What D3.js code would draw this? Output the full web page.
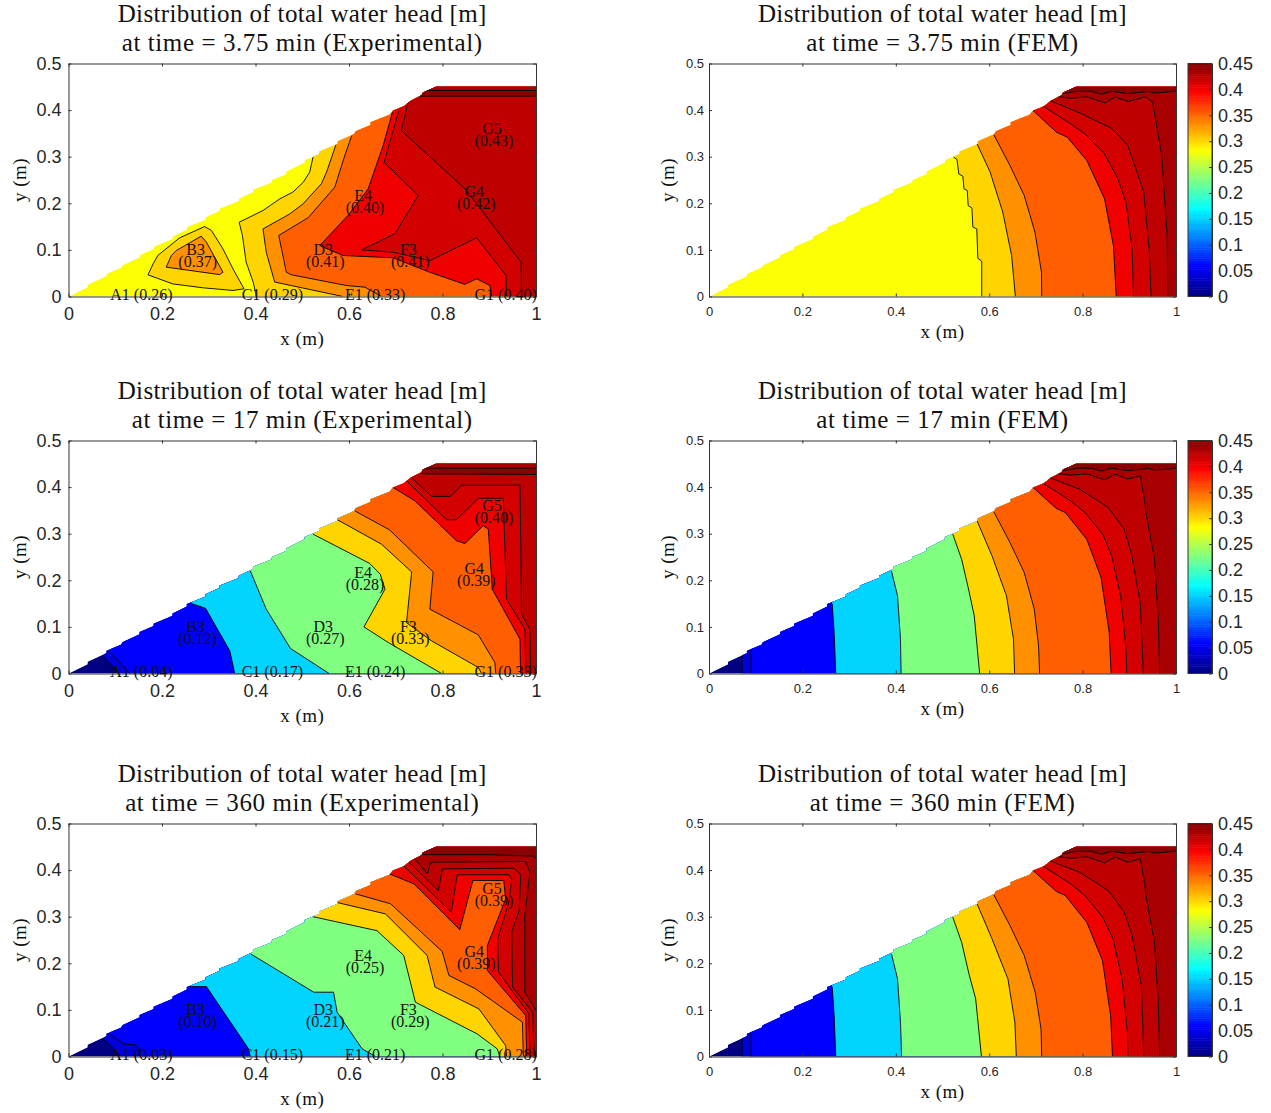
<!DOCTYPE html>
<html>
<head>
<meta charset="utf-8">
<script src="https://cdn.jsdelivr.net/npm/d3@7"></script>
<style>
  html, body { margin: 0; padding: 0; background: #fff; }
  svg { display: block; }
  .title, .axis-label, .probe { font-family: "Liberation Serif", serif; fill: #111; }
  .tick text { font-family: "Liberation Sans", Arial, sans-serif; fill: #262626; }
  .tick line, .domain { stroke: #333; }
</style>
</head>
<body>
<svg id="chart" width="1271" height="1113"></svg>
<script>
const xTicks = [0, 0.2, 0.4, 0.6, 0.8, 1];
const yTicks = [0, 0.1, 0.2, 0.3, 0.4, 0.5];
const barTicks = [0, 0.05, 0.1, 0.15, 0.2, 0.25, 0.3, 0.35, 0.4, 0.45];

// the sloped top of the dam, stepped like the mesh it came from
const damOutline = [[0,0],[.0405,.020],[.0405,.025],[.081,.044],[.081,.049],[.113,.062],[.115,.067],[.152,.0844],[.152,.089],
  [.182,.102],[.182,.107],[.2225,.124],[.2225,.129],[.253,.144],[.253,.149],[.293,.165],[.293,.170],[.323,.184],[.323,.189],
  [.364,.205],[.364,.210],[.3945,.224],[.3945,.229],[.435,.245],[.435,.250],[.4656,.263],[.4656,.268],[.505,.288],[.505,.293],
  [.536,.306],[.536,.311],[.5757,.328],[.5757,.333],[.61,.348],[.615,.355],[.646,.368],[.646,.374],[.6865,.390],[.694,.399],
  [.717,.408],[.732,.42],[.755,.432],[.758,.438],[.786,.45],[1,.45],[1,0]];

// each isoline: [head value of the band it opens, how the band closes, points in metres]
const exp375 = [
  [.30, 'loop', [[.170,.0465],[.181,.070],[.191,.088],[.238,.126],[.291,.150],[.3055,.142],[.3305,.102],[.352,.059],[.3755,.0165],[.352,.013],[.288,.0186],[.223,.027]]],
  [.33, 'loop', [[.209,.063],[.22,.088],[.2305,.0987],[.284,.1295],[.295,.1166],[.3305,.052],[.323,.047],[.259,.056]]],
  [.30, 'right', [[.523,.299],[.516,.267],[.502,.245],[.480,.224],[.452,.2096],[.416,.1845],[.380,.1667],[.365,.1595],[.372,.131],[.380,.0737],[.395,.031],[.402,0]]],
  [.33, 'right', [[.572,.3255],[.552,.267],[.541,.242],[.502,.199],[.473,.177],[.416,.145],[.423,.095],[.441,.031],[.587,0]]],
  [.352, 'right', [[.606,.3455],[.591,.3026],[.5696,.2346],[.5125,.169],[.4497,.131],[.466,.052],[.477,.0465],[.5946,.0236],[.634,.02],[.6695,0]]],
  [.40, 'right', [[.693,.3956],[.673,.324],[.641,.231],[.598,.174],[.5375,.1094],[.587,.088],[.6945,.083],[.773,.052],[.848,.026],[.873,.038],[.9015,.0236],[.905,0]]],
  [.413, 'right', [[.7066,.399],[.675,.288],[.748,.2167],[.698,.1345],[.6267,.100],[.6945,.095],[.773,.077],[.873,.126],[.936,.045],[.937,0]]],
  [.422, 'right', [[.7266,.417],[.712,.356],[.848,.231],[.873,.199],[.968,.0737],[.969,0]]],
  [.445, 'up', [[.75,.43],[1,.43]]],
  [.432, 'up', [[.76,.442],[1,.442]]]
];
const exp17 = [
  [.04, 'right', [[.075,.0365],[.108,0]]],
  [.056, 'right', [[.088,.047],[.131,0]]],
  [.15, 'right', [[.263,.150],[.293,.140],[.345,.0486],[.3555,0]]],
  [.225, 'right', [[.389,.220],[.423,.138],[.475,.0536],[.5575,0]]],
  [.30, 'right', [[.523,.299],[.6445,.236],[.667,.213],[.677,.181],[.632,.100],[.684,.0665],[.798,0]]],
  [.33, 'right', [[.575,.33],[.6695,.2775],[.734,.218],[.723,.109],[.7766,.070],[.8765,.013],[.8836,0]]],
  [.352, 'right', [[.6124,.349],[.687,.308],[.780,.218],[.773,.138],[.8765,.083],[.912,.0236],[.914,0]]],
  [.40, 'right', [[.6945,.399],[.741,.3705],[.830,.2847],[.848,.279],[.887,.317],[.898,.3097],[.9065,.181],[.9657,.0737],[.967,0]]],
  [.413, 'right', [[.7195,.417],[.8087,.33],[.830,.33],[.8765,.376],[.930,.376],[.937,.1595],[.9764,.095],[.9786,0]]],
  [.422, 'right', [[.734,.42],[.7766,.38],[.816,.38],[.841,.404],[.966,.404],[.969,.127],[.987,.095],[.9886,0]]],
  [.445, 'up', [[.755,.4285],[1,.427]]],
  [.432, 'up', [[.76,.4406],[1,.4406]]]
];
const exp360 = [
  [.04, 'right', [[.0765,.0365],[.1,.013],[.11,0]]],
  [.056, 'right', [[.089,.047],[.118,.027],[.143,.025],[.151,.0165],[.151,0]]],
  [.15, 'right', [[.26,.150],[.295,.15],[.385,.0165],[.389,0]]],
  [.225, 'right', [[.39,.22],[.5246,.138],[.567,.138],[.5746,.095],[.628,.0165],[.6567,0]]],
  [.30, 'right', [[.523,.30],[.66,.27],[.717,.217],[.742,.1166],[.874,.0486],[.917,.0165],[.923,0]]],
  [.33, 'right', [[.5766,.33],[.678,.306],[.767,.217],[.784,.149],[.878,.102],[.935,.0236],[.937,0]]],
  [.352, 'right', [[.614,.349],[.689,.3276],[.7994,.2253],[.8137,.174],[.871,.145],[.971,.0737],[.973,0]]],
  [.40, 'right', [[.686,.392],[.739,.3705],[.837,.272],[.865,.3777],[.931,.3777],[.935,.338],[.896,.238],[.896,.1845],[.978,.088],[.98,0]]],
  [.413, 'right', [[.716,.41],[.8187,.31],[.8315,.39],[.942,.39],[.948,.381],[.942,.331],[.918,.2525],[.92,.181],[.985,.0916],[.987,0]]],
  [.422, 'right', [[.728,.417],[.791,.356],[.80,.4027],[.953,.404],[.9675,.39],[.964,.313],[.948,.267],[.95,.149],[.993,.095],[.996,0]]],
  [.432, 'right', [[.739,.4256],[.768,.392],[.775,.417],[.978,.4185],[.987,.3956],[.976,.3026],[.976,.138],[1,.0987]]],
  [.445, 'up', [[.757,.433],[.9,.433],[.995,.43],[1,.425]]]
];

const femCrest = [[.7576,.435],[.79,.4406],[.82,.4406],[.8395,.434],[.8624,.4406],[.897,.435],[.939,.44],[.954,.4363],[1,.4406]];

const fem375 = [
  [.30, 'right', [[.5237,.299],[.531,.294],[.535,.263],[.5436,.258],[.546,.231],[.553,.2275],[.555,.195],[.563,.190],[.565,.149],[.5734,.145],[.5757,.082],[.584,.0758],[.584,0]]],
  [.33, 'right', [[.574,.3276],[.602,.267],[.629,.181],[.648,.088],[.656,0]]],
  [.352, 'right', [[.61,.347],[.6445,.281],[.675,.2167],[.698,.138],[.712,.052],[.7125,0]]],
  [.40, 'right', [[.694,.399],[.744,.3526],[.767,.342],[.809,.292],[.847,.2096],[.866,.109],[.872,0]]],
  [.413, 'right', [[.7156,.408],[.7745,.3705],[.805,.349],[.847,.306],[.874,.256],[.893,.2024],[.906,.102],[.909,0]]],
  [.422, 'right', [[.73,.4206],[.7554,.41],[.79,.3956],[.862,.361],[.897,.324],[.931,.224],[.943,.095],[.9465,0]]],
  [.432, 'right', [[.746,.429],[.7745,.4256],[.809,.4285],[.847,.4156],[.87,.4278],[.897,.4185],[.935,.4285],[.95,.417],[.9694,.3026],[.981,.131],[.9824,0]]],
  [.445, 'up', femCrest]
];
const fem17 = [
  [.04, 'right', [[.071,.04],[.071,0]]],
  [.056, 'right', [[.09,.05],[.09,0]]],
  [.15, 'right', [[.2638,.1495],[.268,.088],[.2714,0]]],
  [.225, 'right', [[.3907,.22],[.4037,.1667],[.41,.0737],[.4113,0]]],
  [.30, 'right', [[.522,.299],[.541,.245],[.5566,.1774],[.568,.1237],[.5795,0]]],
  [.33, 'right', [[.574,.3276],[.606,.2525],[.637,.1667],[.652,.0737],[.6544,0]]],
  [.352, 'right', [[.61,.347],[.6445,.281],[.675,.2167],[.6965,.138],[.7057,.0594],[.708,0]]],
  [.40, 'right', [[.694,.399],[.744,.354],[.763,.3455],[.809,.288],[.8395,.206],[.857,.088],[.861,0]]],
  [.413, 'right', [[.7156,.408],[.7745,.3705],[.805,.3455],[.843,.299],[.8624,.2525],[.8815,.1667],[.893,.052],[.8945,0]]],
  [.422, 'right', [[.73,.4206],[.7554,.41],[.7936,.3956],[.855,.356],[.889,.31],[.904,.26],[.9235,.152],[.93,0]]],
  [.432, 'right', [[.746,.429],[.7745,.4256],[.809,.4285],[.847,.4156],[.87,.4278],[.897,.417],[.9235,.424],[.933,.3705],[.935,.349],[.954,.245],[.962,.1166],[.965,0]]],
  [.445, 'up', femCrest]
];
const fem360 = [
  [.04, 'right', [[.071,.04],[.071,0]]],
  [.056, 'right', [[.09,.05],[.09,0]]],
  [.15, 'right', [[.2638,.1495],[.268,.088],[.2714,0]]],
  [.225, 'right', [[.3907,.22],[.4037,.1667],[.41,.0737],[.4125,0]]],
  [.30, 'right', [[.522,.299],[.541,.245],[.5566,.1774],[.571,.1237],[.5834,0]]],
  [.33, 'right', [[.574,.3276],[.606,.2525],[.64,.1667],[.655,.0737],[.658,0]]],
  [.352, 'right', [[.61,.347],[.6445,.281],[.675,.2167],[.6985,.138],[.711,.0594],[.7125,0]]],
  [.40, 'right', [[.694,.399],[.744,.354],[.763,.3455],[.809,.288],[.8425,.206],[.86,.088],[.864,0]]],
  [.413, 'right', [[.7156,.408],[.7745,.3705],[.805,.3455],[.843,.299],[.8654,.2525],[.8845,.1667],[.896,.052],[.897,0]]],
  [.422, 'right', [[.73,.4206],[.7554,.41],[.7936,.3956],[.855,.356],[.889,.31],[.906,.26],[.926,.152],[.931,0]]],
  [.432, 'right', [[.746,.429],[.7745,.4256],[.809,.4285],[.847,.4156],[.87,.4278],[.897,.417],[.9235,.424],[.933,.3705],[.935,.349],[.954,.245],[.962,.1166],[.965,0]]],
  [.445, 'up', femCrest]
];

// probe readings shown on the experimental panels
const probeNames = ['A1', 'C1', 'E1', 'G1', 'B3', 'D3', 'F3', 'E4', 'G4', 'G5'];
const probeX = [.156, .436, .656, .935, .272, .545, .727, .63, .868, .906];
const probeY = [0, 0, 0, 0, .1, .1, .1, .215, .225, .36];
const probes375 = ['0.26', '0.29', '0.33', '0.40', '0.37', '0.41', '0.41', '0.40', '0.42', '0.43'];
const probes17 = ['0.04', '0.17', '0.24', '0.33', '0.12', '0.27', '0.33', '0.28', '0.39', '0.40'];
const probes360 = ['0.03', '0.15', '0.21', '0.28', '0.10', '0.21', '0.29', '0.25', '0.39', '0.39'];

const svg = d3.select('#chart');
const maxHead = 0.45;

// MATLAB jet
function jet(v) {
    const t = v / maxHead;
    const c = a => Math.round(255 * Math.max(0, Math.min(1, 1.5 - Math.abs(4 * t - a))));
    return d3.rgb(c(3), c(2), c(1)).formatHex();
}

function drawPanel(opt) {
    const x = d3.scaleLinear().domain([0, 1]).range([opt.left, opt.left + opt.w]);
    const y = d3.scaleLinear().domain([0, 0.5]).range([opt.top + opt.h, opt.top]);
    const line = d3.line().x(d => x(d[0])).y(d => y(d[1]));
    const g = svg.append('g');

    g.append('clipPath').attr('id', opt.id)
        .append('path').attr('d', line(damOutline) + 'Z');

    const marks = g.append('g').attr('clip-path', `url(#${opt.id})`);
    marks.append('path').attr('d', line(damOutline) + 'Z').attr('fill', jet(opt.base));

    opt.lines.forEach(([level, kind, pts]) => {
        const first = pts[0];
        let ring = pts;
        if (kind === 'right') ring = pts.concat([[1, 0], [1, 0.5], [first[0], 0.5]]);
        if (kind === 'up') ring = pts.concat([[1, 0.5], [first[0], 0.5]]);
        marks.append('path').attr('d', line(ring) + 'Z').attr('fill', jet(level));
        marks.append('path')
            .attr('d', line(pts) + (kind === 'loop' ? 'Z' : ''))
            .attr('fill', 'none')
            .attr('stroke', '#000')
            .attr('stroke-width', 0.9);
    });

    const axes = g.append('g');
    const b = axes.append('g').attr('transform', `translate(0,${opt.top + opt.h})`)
        .call(d3.axisBottom(x).tickValues(xTicks).tickFormat(d => String(d)).tickSizeInner(-3).tickSizeOuter(0).tickPadding(opt.xPad));
    const l = axes.append('g').attr('transform', `translate(${opt.left},0)`)
        .call(d3.axisLeft(y).tickValues(yTicks).tickFormat(d => String(d)).tickSizeInner(-3).tickSizeOuter(0).tickPadding(opt.yPad));
    axes.append('g').attr('transform', `translate(0,${opt.top})`)
        .call(d3.axisTop(x).tickValues(xTicks).tickFormat('').tickSizeInner(-3).tickSizeOuter(0));
    axes.append('g').attr('transform', `translate(${opt.left + opt.w},0)`)
        .call(d3.axisRight(y).tickValues(yTicks).tickFormat('').tickSizeInner(-3).tickSizeOuter(0));
    b.selectAll('text').style('font-size', opt.tickFont + 'px');
    l.selectAll('text').style('font-size', opt.tickFont + 'px');

    const cx = opt.left + opt.w / 2;
    const title = g.append('text').attr('class', 'title')
        .attr('text-anchor', 'middle')
        .style('font-size', '25px')
        .style('letter-spacing', '0.36px');
    title.append('tspan').attr('x', cx).attr('y', opt.top - 42).text('Distribution of total water head [m]');
    title.append('tspan').attr('x', cx).attr('y', opt.top - 13).style('letter-spacing', '0.58px').text(opt.subtitle);

    g.append('text').attr('class', 'axis-label')
        .attr('text-anchor', 'middle')
        .attr('x', cx).attr('y', opt.top + opt.h + opt.xLabelGap)
        .style('font-size', '19px')
        .style('letter-spacing', '0.5px')
        .text('x (m)');
    g.append('text').attr('class', 'axis-label')
        .attr('text-anchor', 'middle')
        .attr('transform', `translate(${opt.left - opt.yLabelGap},${opt.top + opt.h / 2}) rotate(-90)`)
        .style('font-size', '19px')
        .style('letter-spacing', '0.5px')
        .text('y (m)');

    if (opt.readings) {
        probeNames.forEach((name, i) => {
            const px = x(probeX[i]);
            const py = y(probeY[i]);
            const t = g.append('text').attr('class', 'probe').style('font-size', '16px').attr('text-anchor', 'middle');
            if (probeY[i] === 0) {
                t.attr('x', px).attr('y', py + 3).text(`${name} (${opt.readings[i]})`);
            } else {
                t.append('tspan').attr('x', px).attr('y', py + 5).text(name);
                t.append('tspan').attr('x', px + 2).attr('y', py + 17).text(`(${opt.readings[i]})`);
            }
        });
    }
}

function drawColorbar(top, h) {
    const left = 1188, w = 24;
    const y = d3.scaleLinear().domain([0, maxHead]).range([top + h, top]);
    const g = svg.append('g');
    g.selectAll('rect').data(d3.range(0, maxHead, maxHead / 128)).enter().append('rect')
        .attr('x', left).attr('width', w)
        .attr('y', d => y(d + maxHead / 128))
        .attr('height', h / 128 + 0.5)
        .attr('fill', d => jet(d));
    const a = g.append('g').attr('transform', `translate(${left + w},0)`)
        .call(d3.axisRight(y).tickValues(barTicks).tickFormat(d => String(d)).tickSizeInner(-3).tickSizeOuter(0).tickPadding(6));
    a.selectAll('text').style('font-size', '18px');
    g.append('rect').attr('x', left).attr('y', top).attr('width', w).attr('height', h)
        .attr('fill', 'none').attr('stroke', '#333');
}

const tops = [63.5, 440.5, 823.5];
const times = ['3.75', '17', '360'];
const expSets = [exp375, exp17, exp360];
const femSets = [fem375, fem17, fem360];
const readings = [probes375, probes17, probes360];
const bases = [.28, 0, 0];

tops.forEach((top, i) => {
    drawPanel({
        id: 'clip-exp-' + i, left: 68.5, top, w: 467.5, h: 233,
        base: bases[i], lines: expSets[i], readings: readings[i],
        subtitle: `at time = ${times[i]} min (Experimental)`,
        tickFont: 18, xPad: 11, yPad: 7, xLabelGap: 48, yLabelGap: 43
    });
    drawPanel({
        id: 'clip-fem-' + i, left: 709, top, w: 467, h: 233,
        base: bases[i], lines: femSets[i],
        subtitle: `at time = ${times[i]} min (FEM)`,
        tickFont: 13, xPad: 10, yPad: 5, xLabelGap: 41, yLabelGap: 35
    });
    drawColorbar(top, 233);
});
</script>
</body>
</html>
